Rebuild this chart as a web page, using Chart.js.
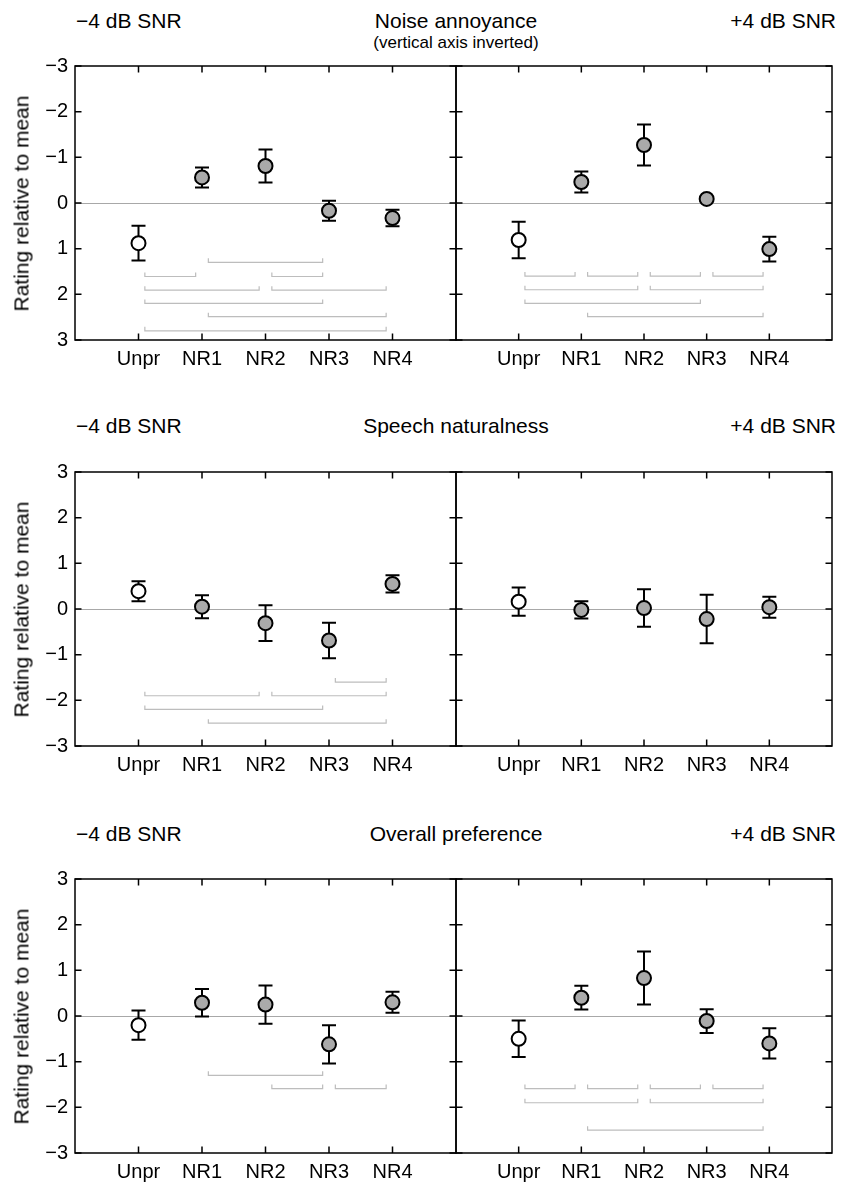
<!DOCTYPE html>
<html>
<head>
<meta charset="utf-8">
<script src="https://cdn.jsdelivr.net/npm/chart.js@4/dist/chart.umd.min.js"></script>
<style>
  html, body { margin: 0; padding: 0; background: #fff; }
  #fig { position: relative; width: 841px; height: 1184px; overflow: hidden; font-family: "Liberation Sans", Arial, Helvetica, sans-serif; color: #000; }
  .t { position: absolute; white-space: nowrap; font-size: 21px; line-height: 21px; }
  .sub { position: absolute; white-space: nowrap; font-size: 17px; line-height: 17px; }
  .ylab { position: absolute; white-space: nowrap; font-size: 21px; line-height: 21px; text-align: center; transform: rotate(-90deg); }
  canvas { position: absolute; }
</style>
</head>
<body>
<div id="fig"></div>
<script>
// ---------- data ----------
const categories = ['Unpr', 'NR1', 'NR2', 'NR3', 'NR4'];
const yTicks = [-3, -2, -1, 0, 1, 2, 3];
const rowTitles = ['Noise annoyance', 'Speech naturalness', 'Overall preference'];
const subTitle = '(vertical axis inverted)';
const leftLabel = '\u22124 dB SNR';
const rightLabel = '+4 dB SNR';
const yAxisTitle = 'Rating relative to mean';

// Noise annoyance (axis inverted)
const annoyM4Mean = [0.88, -0.56, -0.81, 0.17, 0.33];
const annoyM4Err  = [0.38, 0.22, 0.36, 0.22, 0.18];
const annoyP4Mean = [0.81, -0.46, -1.27, -0.09, 1.01];
const annoyP4Err  = [0.40, 0.23, 0.45, 0.04, 0.27];
// brackets: [from category index, to category index, level]
const annoyM4Brackets = [[1,3,1.30],[0,1,1.61],[2,3,1.61],[0,2,1.91],[2,4,1.91],[0,3,2.20],[1,4,2.49],[0,4,2.80]];
const annoyP4Brackets = [[0,1,1.60],[1,2,1.60],[2,3,1.60],[3,4,1.60],[0,2,1.90],[2,4,1.90],[0,3,2.20],[1,4,2.49]];

// Speech naturalness
const natM4Mean = [0.39, 0.05, -0.31, -0.69, 0.55];
const natM4Err  = [0.22, 0.25, 0.39, 0.39, 0.19];
const natP4Mean = [0.16, -0.02, 0.02, -0.22, 0.04];
const natP4Err  = [0.31, 0.19, 0.41, 0.53, 0.23];
const natM4Brackets = [[3,4,-1.60],[0,2,-1.90],[2,4,-1.90],[0,3,-2.20],[1,4,-2.50]];
const natP4Brackets = [];

// Overall preference
const prefM4Mean = [-0.20, 0.29, 0.25, -0.62, 0.30];
const prefM4Err  = [0.32, 0.30, 0.42, 0.42, 0.23];
const prefP4Mean = [-0.50, 0.40, 0.83, -0.11, -0.60];
const prefP4Err  = [0.40, 0.26, 0.58, 0.26, 0.33];
const prefM4Brackets = [[1,3,-1.30],[2,3,-1.59],[3,4,-1.59]];
const prefP4Brackets = [[0,1,-1.59],[1,2,-1.59],[2,3,-1.59],[3,4,-1.59],[0,2,-1.90],[2,4,-1.90],[1,4,-2.50]];

// ---------- layout ----------
const FONT = '"Liberation Sans", Arial, Helvetica, sans-serif';
const areaTop = [66, 472, 879];
const areaH = 274;
const padTop = 14;
const xAxisH = 40;
const titleBaseline = [28, 433, 841];

const rows = [
  { reverse: true,  left: [annoyM4Mean, annoyM4Err, annoyM4Brackets], right: [annoyP4Mean, annoyP4Err, annoyP4Brackets] },
  { reverse: false, left: [natM4Mean, natM4Err, natM4Brackets],       right: [natP4Mean, natP4Err, natP4Brackets] },
  { reverse: false, left: [prefM4Mean, prefM4Err, prefM4Brackets],    right: [prefP4Mean, prefP4Err, prefP4Brackets] }
];

const fig = document.getElementById('fig');

function addText(cls, text, css) {
  const d = document.createElement('div');
  d.className = cls;
  d.textContent = text;
  Object.assign(d.style, css);
  fig.appendChild(d);
  return d;
}

function fmtTick(v) {
  return v < 0 ? '\u2212' + Math.abs(v) : String(v);
}

const decor = {
  id: 'decor',
  beforeDatasetsDraw(chart, args, o) {
    const { ctx, chartArea: a, scales: { x, y } } = chart;
    ctx.save();
    // zero line
    ctx.strokeStyle = '#a8a8a8';
    ctx.lineWidth = 1;
    const y0 = Math.round(y.getPixelForValue(0)) + 0.5;
    ctx.beginPath(); ctx.moveTo(a.left, y0); ctx.lineTo(a.right, y0); ctx.stroke();
    // significance brackets
    ctx.strokeStyle = '#bdbdbd';
    ctx.lineWidth = 1.2;
    o.brackets.forEach(([f, t, lev]) => {
      const x1 = x.getPixelForValue(f + 1 + 0.1);
      const x2 = x.getPixelForValue(t + 1 - 0.1);
      const yy = y.getPixelForValue(lev);
      ctx.beginPath();
      ctx.moveTo(x1, yy - 4); ctx.lineTo(x1, yy); ctx.lineTo(x2, yy); ctx.lineTo(x2, yy - 4);
      ctx.stroke();
    });
    // error bars
    ctx.strokeStyle = '#000';
    ctx.lineWidth = 2;
    const ds = chart.data.datasets[0].data;
    ds.forEach((p, i) => {
      const e = o.err[i];
      const px = x.getPixelForValue(p.x);
      const ya = y.getPixelForValue(p.y - e);
      const yb = y.getPixelForValue(p.y + e);
      ctx.beginPath();
      ctx.moveTo(px, ya); ctx.lineTo(px, yb);
      ctx.moveTo(px - 7, ya); ctx.lineTo(px + 7, ya);
      ctx.moveTo(px - 7, yb); ctx.lineTo(px + 7, yb);
      ctx.stroke();
    });
    ctx.restore();
  },
  afterDatasetsDraw(chart) {
    const { ctx, chartArea: a, scales: { x, y } } = chart;
    ctx.save();
    ctx.strokeStyle = '#000';
    ctx.lineWidth = 1.5;
    ctx.strokeRect(a.left, a.top, a.right - a.left, a.bottom - a.top);
    const tl = 6.5;
    ctx.beginPath();
    categories.forEach((c, i) => {
      const px = x.getPixelForValue(i + 1);
      ctx.moveTo(px, a.top); ctx.lineTo(px, a.top + tl);
      ctx.moveTo(px, a.bottom); ctx.lineTo(px, a.bottom - tl);
    });
    yTicks.forEach(v => {
      const py = y.getPixelForValue(v);
      ctx.moveTo(a.left, py); ctx.lineTo(a.left + tl, py);
      ctx.moveTo(a.right, py); ctx.lineTo(a.right - tl, py);
    });
    ctx.stroke();
    ctx.restore();
  }
};

function makePanel(r, side, mean, err, brackets, reverse) {
  const isLeft = side === 'left';
  const cLeft = isLeft ? 0 : 446;
  const cWidth = isLeft ? 470 : 395;
  const padL = isLeft ? 0 : 10;
  const padR = isLeft ? 14 : 3;
  const cTop = areaTop[r] - padTop;
  const cHeight = padTop + areaH + xAxisH;
  const cv = document.createElement('canvas');
  cv.width = cWidth; cv.height = cHeight;
  cv.style.left = cLeft + 'px'; cv.style.top = cTop + 'px';
  cv.style.width = cWidth + 'px'; cv.style.height = cHeight + 'px';
  fig.appendChild(cv);

  new Chart(cv.getContext('2d'), {
    type: 'scatter',
    data: {
      datasets: [{
        data: mean.map((v, i) => ({ x: i + 1, y: v })),
        pointRadius: 7,
        pointHoverRadius: 7,
        pointBorderWidth: 2,
        pointBorderColor: '#000',
        pointBackgroundColor: mean.map((v, i) => i === 0 ? '#ffffff' : '#aaaaaa'),
        showLine: false
      }]
    },
    options: {
      responsive: false,
      animation: false,
      events: [],
      layout: { padding: { top: padTop, left: padL, right: padR, bottom: 0 } },
      plugins: {
        legend: { display: false },
        tooltip: { enabled: false },
        decor: { err: err, brackets: brackets }
      },
      scales: {
        x: {
          type: 'linear', min: 0, max: 6,
          afterBuildTicks: s => { s.ticks = categories.map((c, i) => ({ value: i + 1 })); },
          afterFit: s => { s.height = xAxisH; s.paddingLeft = 0; s.paddingRight = 0; },
          ticks: {
            callback: v => categories[v - 1],
            font: { family: FONT, size: 20 }, color: '#000',
            padding: 7, maxRotation: 0, autoSkip: false
          },
          grid: { display: false, drawTicks: false },
          border: { display: false }
        },
        y: {
          type: 'linear', min: -3, max: 3, reverse: reverse,
          display: isLeft,
          afterBuildTicks: s => { s.ticks = yTicks.map(v => ({ value: v })); },
          afterFit: s => { s.width = isLeft ? 75 : 0; s.paddingTop = 0; s.paddingBottom = 0; },
          ticks: {
            callback: v => fmtTick(v),
            font: { family: FONT, size: 20 }, color: '#000',
            padding: 7, autoSkip: false
          },
          grid: { display: false, drawTicks: false },
          border: { display: false }
        }
      }
    },
    plugins: [decor]
  });
}

rows.forEach((row, r) => {
  makePanel(r, 'left', row.left[0], row.left[1], row.left[2], row.reverse);
  makePanel(r, 'right', row.right[0], row.right[1], row.right[2], row.reverse);

  const top = titleBaseline[r] - 17.8;
  addText('t', leftLabel, { left: '76px', top: top + 'px' });
  addText('t', rowTitles[r], { left: '256px', width: '400px', textAlign: 'center', top: top + 'px' });
  addText('t', rightLabel, { right: (841 - 836) + 'px', top: top + 'px', textAlign: 'right' });
  if (r === 0) {
    addText('sub', subTitle, { left: '256px', width: '400px', textAlign: 'center', top: (48 - 14.4) + 'px' });
  }
  const cy = areaTop[r] + areaH / 2;
  const w = 300;
  addText('ylab', yAxisTitle, { left: (21.2 - w / 2) + 'px', top: (cy - 10.5) + 'px', width: w + 'px', height: '21px' });
});
</script>
</body>
</html>
